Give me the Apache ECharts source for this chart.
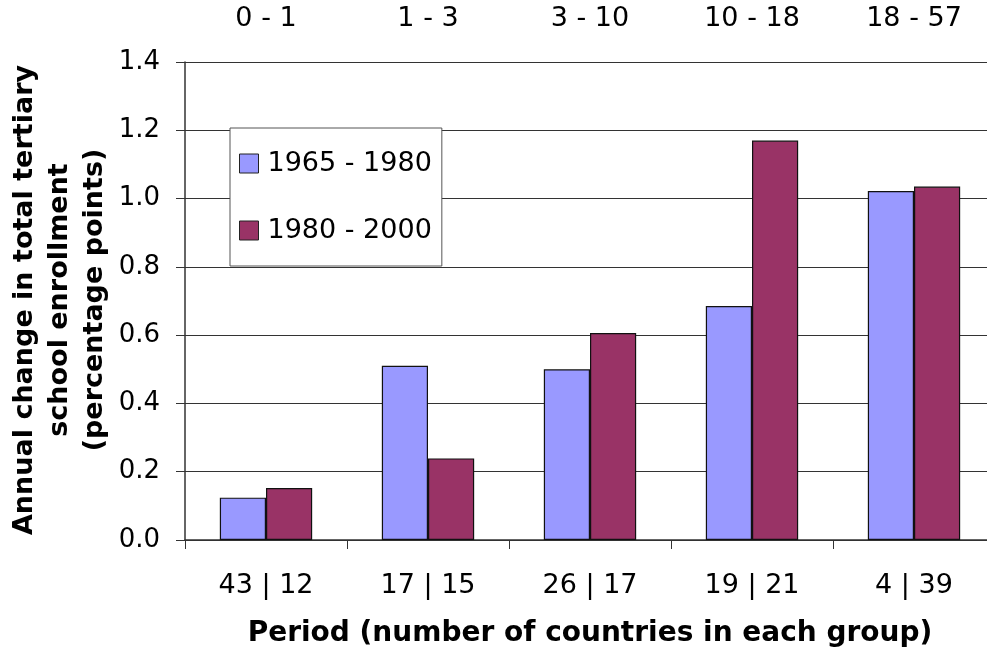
<!DOCTYPE html>
<html>
<head>
<meta charset="utf-8">
<script src="https://cdn.jsdelivr.net/npm/echarts@6/dist/echarts.min.js"></script>
<style>
  html, body { margin: 0; padding: 0; background: #fff; }
  #chart { width: 987px; height: 649px; }
</style>
</head>
<body>
<div id="chart"></div>
<script>
// country counts per group (bottom) and period ranges (top)
const groupLabels = ['43 | 12', '17 | 15', '26 | 17', '19 | 21', '4 | 39'];
const rangeLabels = ['0 - 1', '1 - 3', '3 - 10', '10 - 18', '18 - 57'];
const seriesNames = ['1965 - 1980', '1980 - 2000'];
const values6580 = [0.124, 0.51, 0.50, 0.685, 1.022];
const values8000 = [0.152, 0.239, 0.606, 1.17, 1.035];
const yTicks = [0, 0.2, 0.4, 0.6, 0.8, 1.0, 1.2, 1.4];
const yTitle = 'Annual change in total tertiary\nschool enrollment\n(percentage points)';

const font = 'DejaVu Sans';
const chart = echarts.init(document.getElementById('chart'));

let option = {
  animation: false,
  grid: { left: 185, right: -8, top: 62, bottom: 109, containLabel: false, outerBoundsMode: 'none' },
  // y axis title, rotated, three centred lines
  graphic: [
    {
      type: 'text',
      x: 60,
      y: 300,
      rotation: Math.PI / 2,
      style: {
        text: yTitle,
        fill: '#000',
        font: 'bold 27px "DejaVu Sans"',
        align: 'center',
        verticalAlign: 'middle',
        lineHeight: 35
      }
    }
  ],
  legend: {
    data: seriesNames,
    orient: 'vertical',
    left: 230,
    top: 128,
    icon: 'rect',
    itemWidth: 19,
    itemHeight: 19,
    itemGap: 40,
    padding: [22, 10, 22, 9],
    backgroundColor: '#fff',
    borderColor: '#555',
    borderWidth: 1,
    itemStyle: { borderColor: '#222', borderWidth: 1 },
    textStyle: { fontFamily: font, fontSize: 27, color: '#000', padding: [0, 0, 0, 4] }
  },
  xAxis: [
    {
      type: 'category',
      data: groupLabels,
      position: 'bottom',
      axisLine: { lineStyle: { color: '#333', width: 1.5 } },
      axisTick: { show: true, length: 9, lineStyle: { color: '#333' } },
      axisLabel: { fontFamily: font, fontSize: 27, color: '#000', margin: 32 },
      name: 'Period (number of countries in each group)',
      nameLocation: 'middle',
      nameGap: 80,
      nameTextStyle: { fontFamily: font, fontWeight: 'bold', fontSize: 28, color: '#000' }
    },
    {
      type: 'category',
      data: rangeLabels,
      position: 'top',
      axisLine: { show: false },
      axisTick: { show: false },
      axisLabel: { fontFamily: font, fontSize: 27, color: '#000', margin: 30 }
    }
  ],
  yAxis: {
    type: 'value',
    min: 0,
    max: yTicks[yTicks.length - 1],
    interval: 0.2,
    axisLine: { show: true, lineStyle: { color: '#333', width: 1.5 } },
    axisTick: { show: true, length: 9, lineStyle: { color: '#333' } },
    axisLabel: {
      fontFamily: font, fontSize: 26, color: '#000', margin: 25,
      formatter: v => v.toFixed(1)
    },
    splitLine: { lineStyle: { color: '#333', width: 1.2 } }
  },
  series: [
    {
      name: seriesNames[0],
      type: 'bar',
      data: values6580,
      barGap: '0%',
      barCategoryGap: '43%',
      itemStyle: { color: '#9999ff', borderColor: '#111', borderWidth: 1.2 }
    },
    {
      name: seriesNames[1],
      type: 'bar',
      data: values8000,
      barGap: '0%',
      barCategoryGap: '43%',
      itemStyle: { color: '#993366', borderColor: '#111', borderWidth: 1.2 }
    }
  ]
};

option && chart.setOption(option);
</script>
</body>
</html>
